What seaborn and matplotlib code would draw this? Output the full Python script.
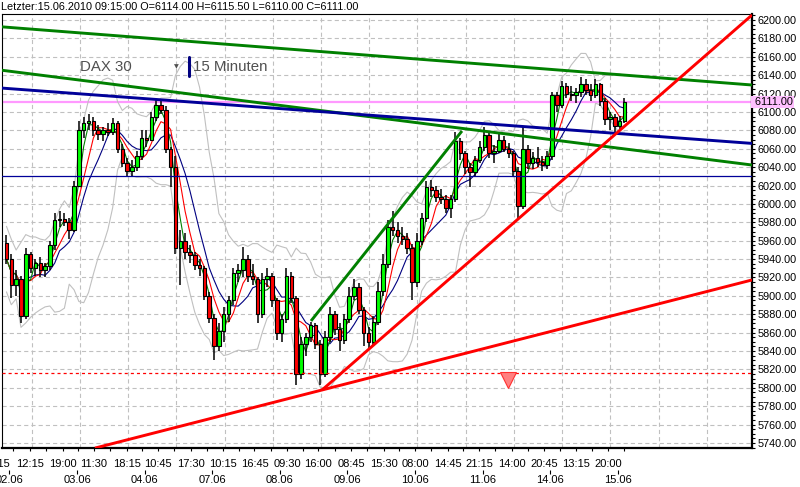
import numpy as np
import pandas as pd
import matplotlib
matplotlib.use("Agg")
import matplotlib.pyplot as plt
from matplotlib.lines import Line2D
from matplotlib.ticker import MultipleLocator
from matplotlib.transforms import blended_transform_factory
import seaborn as sns

sns.set_theme(style="white")
plt.rcParams["font.family"] = ["Liberation Sans", "DejaVu Sans"]
plt.rcParams["lines.scale_dashes"] = False

# DAX 30, hourly candles (trading day 08:00-22:00), first candle 01.06 21:00
first_candle = "01.06 21:00"
opens = [5958, 5940, 5912, 5918, 5878, 5945, 5930, 5936, 5928, 5932, 5955, 5982, 5984, 5980, 5972,
         6020, 6080, 6088, 6090, 6080, 6076, 6080, 6078, 6088, 6060, 6045, 6036, 6040, 6052,
         6072, 6070, 6095, 6108, 6102, 6060, 6040, 5952, 5960, 5948, 5944, 5934, 5930, 5900,
         5876, 5845, 5862, 5880, 5895, 5925, 5928, 5940, 5922, 5918, 5880, 5918, 5922, 5895,
         5860, 5875, 5922, 5898, 5815, 5848, 5855, 5868, 5848, 5815, 5855, 5880, 5864, 5852,
         5875, 5900, 5910, 5885, 5860, 5850, 5872, 5905, 5935, 5975, 5972, 5965, 5962, 5952,
         5915, 5960, 5985, 6018, 6015, 6008, 6005, 5996, 6005, 6068, 6055, 6040, 6035, 6048,
         6062, 6075, 6055, 6058, 6070, 6060, 6055, 6036, 5998, 6060, 6045, 6050, 6046, 6042,
         6052, 6118, 6108, 6128, 6120, 6118, 6122, 6130, 6124, 6118, 6130, 6112, 6092, 6095,
         6085, 6090]
highs = [5966, 5945, 5928, 5922, 5952, 5948, 5940, 5942, 5936, 5960, 5990, 5992, 5990, 5985, 6025,
         6090, 6095, 6098, 6094, 6086, 6084, 6088, 6093, 6090, 6065, 6050, 6048, 6058, 6080,
         6080, 6100, 6113, 6112, 6106, 6062, 6052, 5972, 5968, 5955, 5948, 5940, 5932, 5904,
         5880, 5870, 5888, 5900, 5930, 5935, 5953, 5944, 5935, 5920, 5925, 5930, 5925, 5898,
         5880, 5930, 5926, 5900, 5855, 5860, 5872, 5870, 5852, 5862, 5888, 5884, 5870, 5880,
         5910, 5918, 5914, 5888, 5866, 5878, 5915, 5945, 5982, 5992, 5980, 5975, 5968, 5956,
         5968, 5990, 6025, 6026, 6020, 6016, 6010, 6010, 6078, 6072, 6058, 6045, 6052, 6068,
         6084, 6078, 6064, 6076, 6074, 6066, 6058, 6040, 6084, 6064, 6056, 6062, 6052, 6058,
         6122, 6122, 6134, 6132, 6128, 6126, 6138, 6136, 6130, 6136, 6132, 6115, 6100, 6098,
         6096, 6115.5]
lows = [5935, 5898, 5900, 5870, 5875, 5925, 5922, 5920, 5920, 5928, 5950, 5975, 5976, 5962, 5970,
        6018, 6072, 6080, 6074, 6070, 6068, 6074, 6075, 6055, 6040, 6030, 6029, 6036, 6048,
        6062, 6068, 6090, 6098, 6055, 6018, 5945, 5912, 5940, 5936, 5928, 5922, 5895, 5870,
        5830, 5840, 5850, 5872, 5890, 5915, 5920, 5915, 5912, 5870, 5876, 5910, 5888, 5852,
        5850, 5870, 5892, 5803, 5810, 5835, 5850, 5842, 5803, 5812, 5850, 5858, 5840, 5848,
        5870, 5895, 5880, 5845, 5841, 5846, 5868, 5900, 5930, 5965, 5958, 5955, 5945, 5896,
        5910, 5955, 5980, 6008, 6002, 6000, 5990, 5985, 6002, 6048, 6032, 6018, 6030, 6044,
        6058, 6050, 6045, 6055, 6056, 6050, 6030, 5985, 5995, 6038, 6038, 6040, 6036, 6038,
        6048, 6100, 6104, 6115, 6112, 6110, 6116, 6118, 6112, 6115, 6106, 6086, 6080, 6078,
        6082, 6088]
closes = [5940, 5912, 5918, 5878, 5945, 5930, 5936, 5928, 5932, 5955, 5982, 5984, 5980, 5972, 6020,
          6080, 6088, 6090, 6080, 6076, 6080, 6078, 6088, 6060, 6045, 6036, 6040, 6052, 6072,
          6070, 6095, 6108, 6102, 6060, 6040, 5952, 5960, 5948, 5944, 5934, 5930, 5900, 5876,
          5845, 5862, 5880, 5895, 5925, 5928, 5940, 5922, 5918, 5880, 5918, 5922, 5895, 5860,
          5875, 5922, 5898, 5815, 5848, 5855, 5868, 5848, 5815, 5855, 5880, 5864, 5852, 5875,
          5900, 5910, 5885, 5860, 5850, 5872, 5905, 5935, 5975, 5972, 5965, 5962, 5952, 5915,
          5960, 5985, 6018, 6015, 6008, 6005, 5996, 6005, 6068, 6055, 6040, 6035, 6048, 6062,
          6075, 6055, 6058, 6070, 6060, 6055, 6036, 5998, 6060, 6045, 6050, 6046, 6042, 6052,
          6118, 6108, 6128, 6120, 6118, 6122, 6130, 6124, 6118, 6130, 6112, 6092, 6095, 6085,
          6090, 6111]

trading_days = ["01.06", "02.06", "03.06", "04.06", "07.06", "08.06", "09.06",
                "10.06", "11.06", "14.06", "15.06"]
date_labels = ["02.06", "03.06", "04.06", "07.06", "08.06", "09.06", "10.06", "11.06", "14.06", "15.06"]
time_labels = ["01.06 19:15", "02.06 12:15", "02.06 19:00", "03.06 11:30", "03.06 18:15",
               "04.06 10:45", "04.06 17:30", "07.06 10:15", "07.06 16:45", "08.06 09:30",
               "08.06 16:00", "09.06 08:45", "09.06 15:30", "10.06 08:00", "10.06 14:45",
               "10.06 21:15", "11.06 14:00", "11.06 20:45", "14.06 13:15", "14.06 20:00"]

# drawn lines, x in 15-minute bars counted from 02.06 08:00
trend_x0 = [-7.9, -7.9, -7.9, 258.9, 70.8, 249.8]
trend_y0 = [6192.7, 6145.6, 6126.1, 5797.6, 5734.5, 5872.7]
trend_x1 = [615.2, 615.2, 615.2, 615.2, 615.2, 374.9]
trend_y1 = [6129.3, 6042.3, 6065.8, 6205.4, 5917.3, 6079.3]
trend_colors = ["#008000", "#008000", "#000099", "#ff0000", "#ff0000", "#008000"]

last_price = 6111.0
level_blue = 6030.0
level_red = 5816.0
signal_bar, signal_price = 413, 5809

header = "Letzter:15.06.2010 09:15:00 O=6114.00 H=6115.50 L=6110.00 C=6111.00"


def to_bar(stamp):
    day, hm = stamp.split()
    hh, mm = map(int, hm.split(":"))
    return (trading_days.index(day) - 1) * 56 + (hh * 60 + mm - 480) / 15


df = pd.DataFrame({"open": opens, "high": highs, "low": lows, "close": closes})
df["x"] = to_bar(first_candle) + 4 * np.arange(len(df)) + 1.5
df["ma_fast"] = df["close"].rolling(3, min_periods=1).mean()
df["ma_mid"] = df["close"].rolling(5, min_periods=1).mean()
df["ma_slow"] = df["close"].rolling(8, min_periods=1).mean()
sd = df["close"].rolling(10, min_periods=2).std().bfill()
mid = df["close"].rolling(10, min_periods=1).mean()
df["bb_up"] = mid + 1.8 * sd
df["bb_lo"] = mid - 1.8 * sd

fig = plt.figure(figsize=(8, 4.87), dpi=100)
ax = fig.add_axes([2 / 800, 39 / 487, 750 / 800, 434 / 487])
ax.set_xlim(-6.2, 615.2)
ax.set_ylim(5734.6, 6206.5)

# grid
ax.yaxis.set_major_locator(MultipleLocator(20))
ax.yaxis.set_minor_locator(MultipleLocator(5))
ax.grid(axis="y", which="major", color="#c0c0c0", lw=0.8, ls=(0, (3, 2.2)), zorder=0)
for gx in np.arange(18.4, 615, 39.95):
    ax.axvline(gx, color="#c0c0c0", lw=0.8, ls=(0, (3, 2.2)), zorder=0)

# indicators
for col, c in [("bb_up", "#c0c0c0"), ("bb_lo", "#c0c0c0"), ("ma_slow", "#000080"),
               ("ma_mid", "#ff0000"), ("ma_fast", "#008000")]:
    sns.lineplot(data=df, x="x", y=col, ax=ax, color=c, lw=0.8, legend=False, zorder=2)

# candles
ax.vlines(df["x"], df["low"], df["high"], color="black", lw=1.1, zorder=3)
up = df["close"] >= df["open"]
body_lo = np.minimum(df["open"], df["close"])
body_h = np.maximum((df["close"] - df["open"]).abs(), 1.0)
ax.bar(df["x"], body_h, bottom=body_lo, width=2.9,
       color=np.where(up, "#00ff00", "#ff0000"), edgecolor="black", lw=0.8, zorder=4)

# levels and trend lines
ax.axhline(last_price, color="#ff99ff", lw=1.6, zorder=1)
ax.axhline(level_blue, color="#000099", lw=0.9, zorder=5)
ax.axhline(level_red, color="#ff0000", lw=0.9, ls=(0, (2.2, 2.2)), zorder=5)
for x0, y0, x1, y1, c in zip(trend_x0, trend_y0, trend_x1, trend_y1, trend_colors):
    ax.plot([x0, x1], [y0, y1], color=c, lw=2.1, zorder=6, solid_capstyle="butt")
ax.plot(signal_bar, signal_price, marker="v", ms=12, mfc="#ff8080", mec="#ff3030", mew=0.8, zorder=7)

# frame
for side, w in [("left", 0.8), ("top", 0.8), ("right", 1.6), ("bottom", 1.6)]:
    ax.spines[side].set_visible(True)
    ax.spines[side].set_color("black")
    ax.spines[side].set_linewidth(w)

# right price axis
ax.yaxis.tick_right()
ax.yaxis.set_major_formatter(lambda v, p: f"{v:.2f}")
ax.tick_params(axis="y", which="both", direction="out", right=True, left=False,
               length=2.5, width=0.8, color="black", labelsize=7.8, pad=1.5, labelcolor="black")
ax.tick_params(axis="y", which="minor", length=1.8)
ax.text(1.0, last_price, " 6111.00", transform=blended_transform_factory(ax.transAxes, ax.transData),
        ha="left", va="center", fontsize=7.8, color="black", clip_on=False, zorder=8,
        bbox=dict(boxstyle="square,pad=0.12", fc="#ffc0ff", ec="none"))

# time axis
time_pos = [to_bar(t) for t in time_labels]
inside = [p for p in time_pos if -6.2 <= p <= 615.2]
ax.set_xticks(inside)
ax.set_xticks([(a + b) / 2 for a, b in zip(time_pos[:-1], time_pos[1:])] + [time_pos[-1] + 13.5], minor=True)
ax.tick_params(axis="x", which="both", direction="out", bottom=True, length=2.5, width=0.8,
               color="black", labelbottom=False)
tx = blended_transform_factory(ax.transData, ax.transAxes)
for p, t in zip(time_pos, time_labels):
    ax.text(p, -0.036, t.split()[1], transform=tx, ha="center", va="center",
            fontsize=8, color="black", clip_on=False)

sec = ax.secondary_xaxis(-22 / 434)
sec.set_xticks([to_bar(d + " 08:00") for d in date_labels], date_labels)
sec.spines["bottom"].set_visible(False)
sec.tick_params(axis="x", direction="out", length=3, width=0.8, color="black",
                labelsize=8, pad=0.5, labelcolor="black")

# header and instrument box
fig.text(1 / 800, 1 - 7.5 / 487, header, fontsize=7.8, ha="left", va="center", color="black")
fig.text(80 / 800, 1 - 67 / 487, "DAX 30", fontsize=10.8, ha="left", va="center", color="#505050")
fig.text(176 / 800, 1 - 67 / 487, "▼", fontsize=4.5, ha="center", va="center", color="#505050",
         family="DejaVu Sans")
fig.add_artist(Line2D([188.5 / 800] * 2, [1 - 57 / 487, 1 - 76 / 487], color="#000080", lw=2.2))
fig.text(193 / 800, 1 - 67 / 487, "15 Minuten", fontsize=10.8, ha="left", va="center", color="#505050")

ax.set_xlabel("")
ax.set_ylabel("")
fig.savefig("out.png", dpi=100, facecolor="white")
